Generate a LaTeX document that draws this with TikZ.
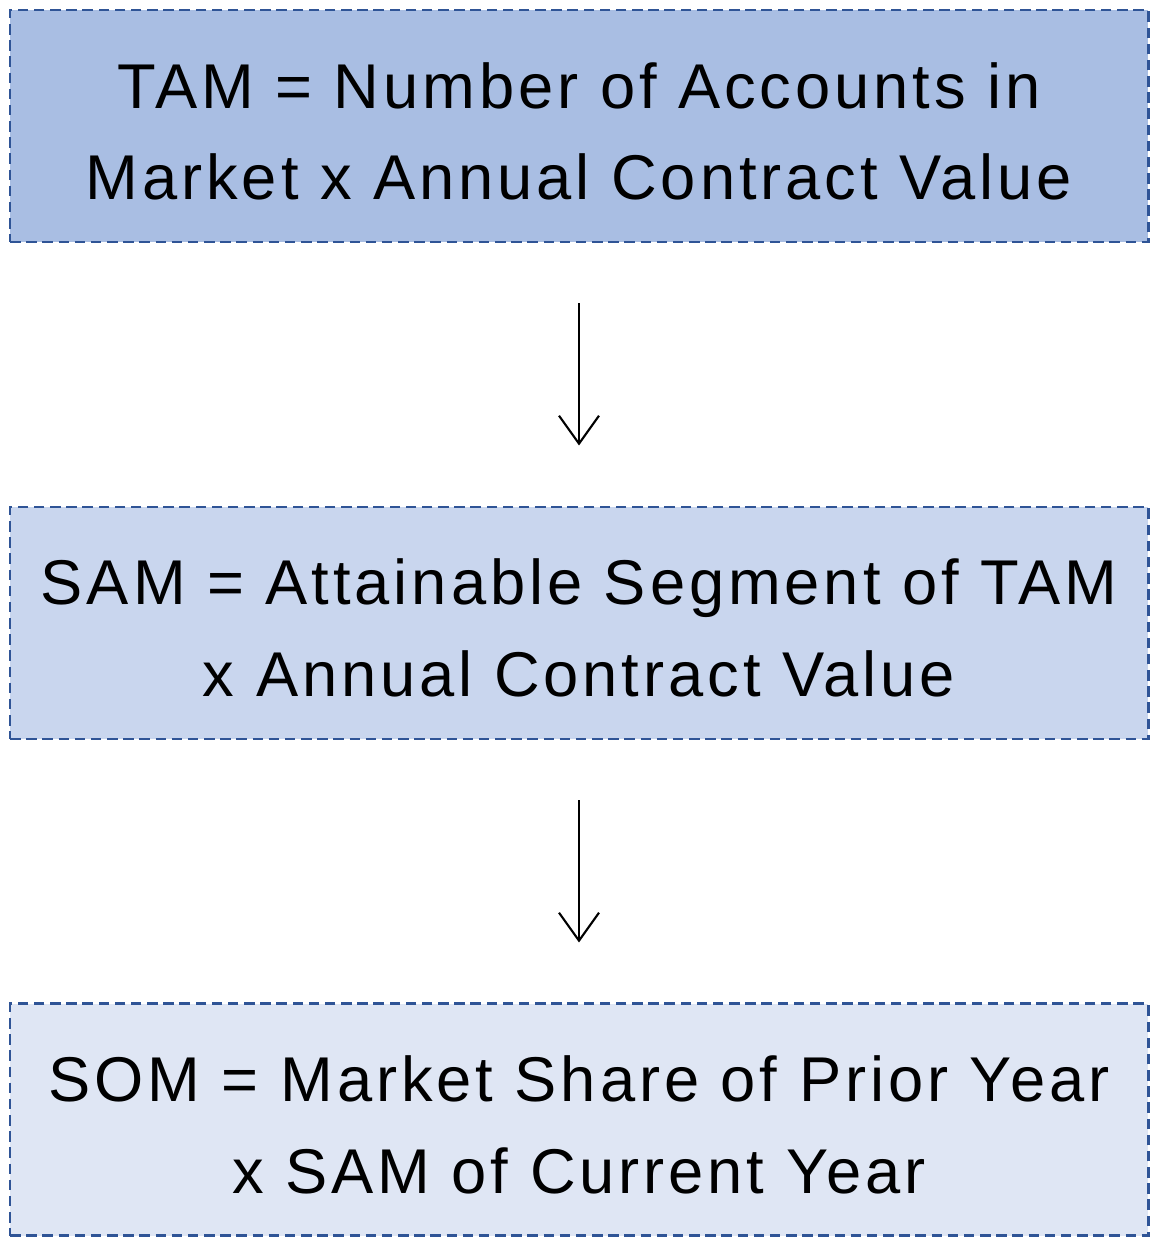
\documentclass[tikz,border=0pt]{standalone}
\usepackage{fontspec}
\setmainfont{Liberation Sans}[LetterSpace=6.2]
\usepackage{tikz}
\usetikzlibrary{positioning, arrows.meta}
\definecolor{mkborder}{HTML}{2F5496}
\definecolor{mktam}{HTML}{A9BEE3}
\definecolor{mksam}{HTML}{C9D6EE}
\definecolor{mksom}{HTML}{DFE6F4}
\newcommand\mkstrut{\rule{0pt}{1.12cm}}

\begin{document}
\begin{tikzpicture}[
  market/.style={
    rectangle, draw=mkborder, line width=1.7pt,
    dash pattern=on 6pt off 3.2pt,
    minimum width=22.76cm, minimum height=4.64cm,
    font=\fontsize{36}{52}\selectfont, align=center
  },
  arr/.style={-{Straight Barb[length=0.56cm, width=0.8cm, line width=1.2pt]},
    line width=1.2pt, black, shorten <=1.2cm, shorten >=1.2cm},
]
\useasboundingbox (0,0) rectangle (23.14,-24.88);

\node[market, fill=mktam] (tam) at (11.58,-2.52)
  {\mkstrut TAM = Number of Accounts in\\Market x Annual Contract Value};
\node[market, fill=mksam, below=5.24cm of tam] (sam)
  {\mkstrut SAM = Attainable Segment of TAM\\x Annual Contract Value};
\node[market, fill=mksom, below=5.24cm of sam] (som)
  {\mkstrut SOM = Market Share of Prior Year\\x SAM of Current Year};

% Flow
\draw[arr] (tam) -- (sam);
\draw[arr] (sam) -- (som);

\end{tikzpicture}
\end{document}
